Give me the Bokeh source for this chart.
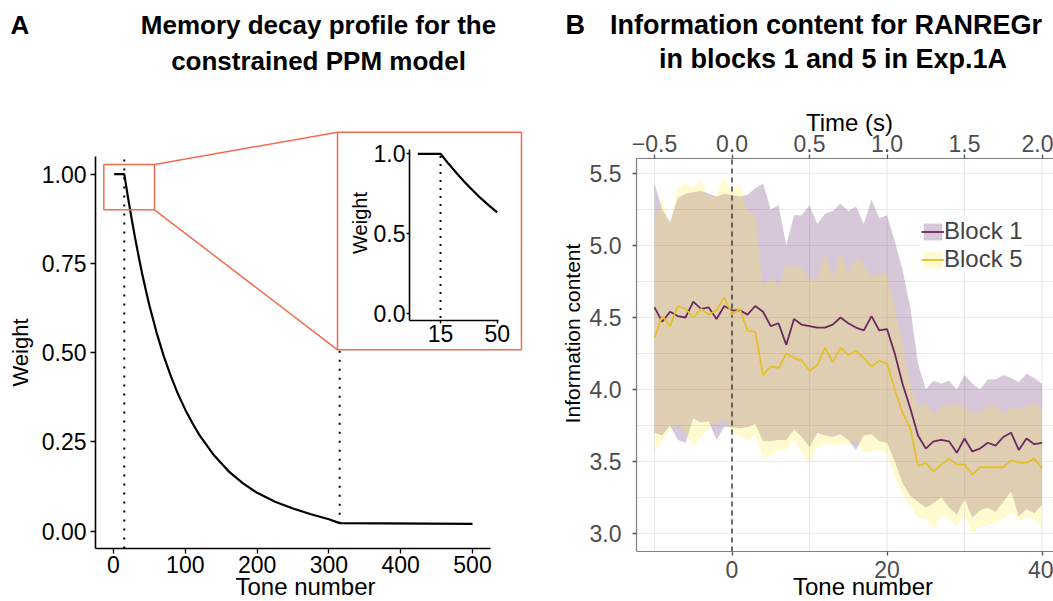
from math import pi
from bokeh.plotting import figure
from bokeh.models import (Range1d, LinearAxis, FixedTicker, PrintfTickFormatter, Label,
                          Legend, LegendItem)
from bokeh.layouts import row
from bokeh.embed import file_html
from bokeh.resources import INLINE

FONT = "Liberation Sans"
RED = "#F26B50"

# ---------------- Panel A data (memory decay profile) ----------------
decay_tone = [1, 15, 20, 25, 30, 35, 40, 45, 50, 60, 70, 80, 90, 100, 110, 120,
              140, 160, 180, 200, 225, 250, 275, 300, 315, 500]
decay_weight = [1.0, 1.0, 0.937, 0.878, 0.822, 0.77, 0.72, 0.675, 0.632, 0.556, 0.49,
                0.433, 0.383, 0.34, 0.302, 0.268, 0.212, 0.168, 0.134, 0.107, 0.082,
                0.063, 0.047, 0.033, 0.022, 0.02]
buffer_end = 15
decay_end = 315
floor_weight = 0.02
inset_max_tone = 50
a_xticks = [0, 100, 200, 300, 400, 500]
a_yticks = [0.0, 0.25, 0.5, 0.75, 1.0]
inset_xticks = [15, 50]
inset_yticks = [0.0, 0.5, 1.0]

# ---------------- Panel B data (information content) ----------------
tone = list(range(-10, 41))
tones_per_second = 20
block1_mean = [4.57, 4.47, 4.54, 4.51, 4.50, 4.61, 4.56, 4.57, 4.49, 4.58,
               4.55, 4.55, 4.52, 4.58, 4.54, 4.44, 4.46, 4.31, 4.49, 4.45,
               4.44, 4.43, 4.43, 4.45, 4.50, 4.46, 4.43, 4.41, 4.51, 4.41,
               4.42, 4.25, 4.04, 3.87, 3.68, 3.59, 3.64, 3.65, 3.64, 3.56,
               3.66, 3.57, 3.59, 3.63, 3.61, 3.67, 3.70, 3.58, 3.66, 3.62, 3.63]
block1_upper = [5.43, 5.25, 5.16, 5.33, 5.36, 5.37, 5.38, 5.36, 5.34, 5.36,
                5.35, 5.34, 5.35, 5.40, 5.43, 5.25, 5.28, 5.00, 5.21, 5.21,
                5.28, 5.15, 5.22, 5.24, 5.29, 5.24, 5.27, 5.15, 5.32, 5.19,
                5.21, 5.03, 4.83, 4.57, 4.18, 4.00, 4.06, 4.04, 4.06, 4.00,
                4.10, 4.04, 4.00, 4.07, 4.07, 4.10, 4.08, 4.05, 4.11, 4.08, 4.04]
block1_lower = [3.70, 3.68, 3.75, 3.65, 3.63, 3.80, 3.77, 3.78, 3.65, 3.74,
                3.74, 3.73, 3.74, 3.76, 3.64, 3.64, 3.65, 3.65, 3.72, 3.67,
                3.60, 3.70, 3.68, 3.67, 3.69, 3.65, 3.58, 3.68, 3.69, 3.64,
                3.63, 3.50, 3.35, 3.26, 3.22, 3.18, 3.21, 3.25, 3.18, 3.13,
                3.24, 3.11, 3.16, 3.18, 3.15, 3.22, 3.29, 3.12, 3.17, 3.14, 3.20]
block5_mean = [4.36, 4.51, 4.44, 4.58, 4.56, 4.50, 4.56, 4.52, 4.55, 4.64,
               4.52, 4.56, 4.41, 4.40, 4.10, 4.16, 4.15, 4.25, 4.22, 4.20,
               4.13, 4.17, 4.29, 4.19, 4.29, 4.24, 4.27, 4.22, 4.16, 4.20,
               4.18, 4.00, 3.84, 3.73, 3.47, 3.49, 3.43, 3.48, 3.52, 3.48,
               3.48, 3.41, 3.46, 3.46, 3.46, 3.46, 3.51, 3.49, 3.49, 3.52, 3.45]
block5_upper = [5.19, 5.32, 5.14, 5.40, 5.43, 5.40, 5.46, 5.33, 5.35, 5.47,
                5.38, 5.43, 5.24, 5.21, 4.72, 4.77, 4.72, 4.87, 4.85, 4.85,
                4.76, 4.77, 4.95, 4.78, 4.95, 4.81, 4.91, 4.87, 4.78, 4.80,
                4.80, 4.57, 4.32, 4.04, 3.88, 3.91, 3.83, 3.88, 3.89, 3.90,
                3.88, 3.83, 3.84, 3.88, 3.89, 3.83, 3.88, 3.86, 3.88, 3.91, 3.86]
block5_lower = [3.56, 3.64, 3.73, 3.76, 3.70, 3.60, 3.67, 3.73, 3.77, 3.80,
                3.70, 3.68, 3.64, 3.69, 3.53, 3.54, 3.58, 3.58, 3.65, 3.56,
                3.50, 3.60, 3.62, 3.61, 3.62, 3.62, 3.64, 3.56, 3.57, 3.58,
                3.56, 3.40, 3.27, 3.19, 3.11, 3.10, 3.03, 3.13, 3.10, 3.05,
                3.12, 3.00, 3.05, 3.05, 3.08, 3.10, 3.15, 3.09, 3.11, 3.10, 3.04]
series_labels = ["Block 1", "Block 5"]
b_xticks = [0, 20, 40]
b_yticks = [3.0, 3.5, 4.0, 4.5, 5.0, 5.5]
b_xgrid = [-10, 0, 10, 20, 30, 40]
b_ygrid = [3.0, 3.25, 3.5, 3.75, 4.0, 4.25, 4.5, 4.75, 5.0, 5.25, 5.5]
time_ticks = [-0.5, 0.0, 0.5, 1.0, 1.5, 2.0]


def lab(p, x, y, text, size, bold=False, align="center", baseline="alphabetic",
        angle=0.0, color="black"):
    p.add_layout(Label(x=x, y=y, x_units="screen", y_units="screen", text=text,
                       text_font=FONT, text_font_size=size,
                       text_font_style="bold" if bold else "normal",
                       text_align=align, text_baseline=baseline, angle=angle,
                       text_color=color))


def style_axis(ax, line_color, tick_color, label_color, tick_out, standoff,
               line_width=1.6):
    ax.axis_line_color = line_color
    ax.axis_line_width = line_width
    ax.major_tick_line_color = tick_color
    ax.major_tick_line_width = 1.3
    ax.major_tick_out = tick_out
    ax.major_tick_in = 0
    ax.minor_tick_line_color = None
    ax.major_label_text_font = FONT
    ax.major_label_text_font_size = "23px"
    ax.major_label_text_color = label_color
    ax.major_label_standoff = standoff


# =================== Panel A ===================
# frame covers the whole figure; axes are placed with fixed locations
pA = figure(width=540, height=601, x_range=Range1d(-157.38, 594.71),
            y_range=Range1d(-0.19753, 1.48641), output_backend="svg",
            toolbar_location=None, x_axis_location=None, y_axis_location=None,
            min_border=0)
pA.outline_line_color = None
pA.xgrid.visible = False
pA.ygrid.visible = False
pA.extra_x_ranges = {"ix": Range1d(-256.60, 76.73)}
pA.extra_y_ranges = {"iy": Range1d(-1.80866, 1.96173)}

A_X0, A_X1, A_Y0, A_Y1 = -25, 525, -0.049, 1.05
ax_x = LinearAxis(fixed_location=A_Y0, bounds=(A_X0, A_X1),
                  ticker=FixedTicker(ticks=a_xticks))
ax_y = LinearAxis(fixed_location=A_X0, bounds=(A_Y0, A_Y1),
                  ticker=FixedTicker(ticks=a_yticks),
                  formatter=PrintfTickFormatter(format="%.2f"))
style_axis(ax_x, "black", "black", "black", 5, 3)
style_axis(ax_y, "black", "black", "black", 5, 4)
pA.add_layout(ax_x, "below")
pA.add_layout(ax_y, "left")

# dotted reference lines and decay curve
pA.segment(x0=[buffer_end], y0=[A_Y0], x1=[buffer_end], y1=[A_Y1],
           line_color="black", line_width=2, line_dash="2 7")
pA.segment(x0=[decay_end], y0=[floor_weight], x1=[decay_end], y1=[A_Y1],
           line_color="black", line_width=2, line_dash="2 7")
pA.line(decay_tone, decay_weight, line_color="black", line_width=2.2)

# zoom rectangle, connectors and inset box
pA.quad(left=[-13.5], right=[57.1], bottom=[0.90], top=[1.027], fill_color=None,
        line_color=RED, line_width=1.5)
pA.segment(x0=[57.1, 57.1], y0=[1.027, 0.90], x1=[312, 312], y1=[1.1174, 0.5077],
           line_color=RED, line_width=1.5)
pA.quad(left=[312], right=[568.2], bottom=[0.5077], top=[1.1174], fill_color="white",
        line_color=RED, line_width=1.5)

# inset content
inset_t = [t for t in decay_tone if t <= inset_max_tone]
inset_w = [w for t, w in zip(decay_tone, decay_weight) if t <= inset_max_tone]
pA.segment(x0=[buffer_end], y0=[-0.03], x1=[buffer_end], y1=[1.02],
           line_color="black", line_width=2, line_dash="2 6",
           x_range_name="ix", y_range_name="iy")
pA.line(inset_t, inset_w, line_color="black", line_width=2.2,
        x_range_name="ix", y_range_name="iy")

ax_iy = LinearAxis(x_range_name="ix", y_range_name="iy", fixed_location=-4.14,
                   bounds=(-0.046, 1.025), ticker=FixedTicker(ticks=inset_yticks),
                   formatter=PrintfTickFormatter(format="%.1f"))
ax_ix = LinearAxis(x_range_name="ix", y_range_name="iy", fixed_location=-0.046,
                   bounds=(-4.14, 50.6), ticker=FixedTicker(ticks=inset_xticks))
style_axis(ax_iy, "black", "black", "black", 3, 1)
style_axis(ax_ix, "black", "black", "black", 3, 1)
pA.add_layout(ax_iy, "left")
pA.add_layout(ax_ix, "below")

# texts (screen coordinates from bottom-left of the figure)
lab(pA, 10, 577, "A", "26px", bold=True, align="left")
lab(pA, 318, 577, "Memory decay profile for the", "26px", bold=True)
lab(pA, 318, 541, "constrained PPM model", "26px", bold=True)
lab(pA, 20, 249, "Weight", "22px", baseline="middle", angle=pi / 2)
lab(pA, 305, 15, "Tone number", "24px")
lab(pA, 359, 378.5, "Weight", "20px", baseline="middle", angle=pi / 2)

# =================== Panel B ===================
B_X0, B_X1, B_Y0, B_Y1 = -12.32, 41.6, 2.875, 5.604
pB = figure(width=513, height=601, x_range=Range1d(-24.71, 41.48),
            y_range=Range1d(2.52778, 6.70139), output_backend="svg",
            toolbar_location=None, x_axis_location=None, y_axis_location=None,
            min_border=0)
pB.outline_line_color = None
pB.xgrid.visible = False
pB.ygrid.visible = False
pB.extra_x_ranges = {"time": Range1d(-24.71 / tones_per_second,
                                     41.48 / tones_per_second)}

# grid lines (theme_bw style)
pB.segment(x0=b_xgrid, y0=[B_Y0] * len(b_xgrid), x1=b_xgrid, y1=[B_Y1] * len(b_xgrid),
           line_color="#EBEBEB", line_width=1.2)
pB.segment(x0=[B_X0] * len(b_ygrid), y0=b_ygrid, x1=[B_X1] * len(b_ygrid), y1=b_ygrid,
           line_color="#EBEBEB", line_width=1.2)

r1a = pB.varea(x=tone, y1=block1_lower, y2=block1_upper, fill_color="#440154",
               fill_alpha=0.22)
r5a = pB.varea(x=tone, y1=block5_lower, y2=block5_upper, fill_color="#FDE725",
               fill_alpha=0.22)
pB.segment(x0=[0], y0=[B_Y0], x1=[0], y1=[B_Y1], line_color="#333333",
           line_width=1.4, line_dash="5 4")
r1l = pB.line(tone, block1_mean, line_color="#6A2A5F", line_width=1.8)
r5l = pB.line(tone, block5_mean, line_color="#E3C12C", line_width=1.8)

bx = LinearAxis(fixed_location=B_Y0, bounds=(B_X0, B_X1),
                ticker=FixedTicker(ticks=b_xticks))
by = LinearAxis(fixed_location=B_X0, bounds=(B_Y0, B_Y1),
                ticker=FixedTicker(ticks=b_yticks),
                formatter=PrintfTickFormatter(format="%.1f"))
bt = LinearAxis(x_range_name="time", fixed_location=B_Y1,
                bounds=(B_X0 / tones_per_second, B_X1 / tones_per_second),
                ticker=FixedTicker(ticks=time_ticks),
                formatter=PrintfTickFormatter(format="%.1f"),
                major_label_overrides={-0.5: "\u22120.5"})
style_axis(bx, "#808080", "#555555", "#4D4D4D", 4, 5, 1.2)
style_axis(by, "#808080", "#555555", "#4D4D4D", 4, 11, 1.2)
style_axis(bt, "#808080", "#555555", "#4D4D4D", 4, 3, 1.2)
pB.add_layout(bx, "below")
pB.add_layout(by, "left")
pB.add_layout(bt, "above")

legend = Legend(items=[LegendItem(label=series_labels[0], renderers=[r1a, r1l]),
                       LegendItem(label=series_labels[1], renderers=[r5a, r5l])],
                location=(381, 328), orientation="vertical",
                background_fill_color="white", background_fill_alpha=1.0,
                border_line_color=None, label_text_font=FONT,
                label_text_font_size="24px", glyph_width=23, glyph_height=21,
                label_standoff=-3, padding=6, spacing=-4, margin=0)
pB.add_layout(legend)

lab(pB, 25, 577, "B", "27px", bold=True, align="left")
lab(pB, 285.5, 577, "Information content for RANREGr", "27px", bold=True)
lab(pB, 292.5, 543, "in blocks 1 and 5 in Exp.1A", "27px", bold=True)
lab(pB, 309, 479, "Time (s)", "24px")
lab(pB, 32, 268, "Information content", "21px", baseline="middle", angle=pi / 2)
lab(pB, 322.5, 15, "Tone number", "24px")

layout = row(pA, pB)
open("out.html", "w").write(file_html(layout, INLINE))
